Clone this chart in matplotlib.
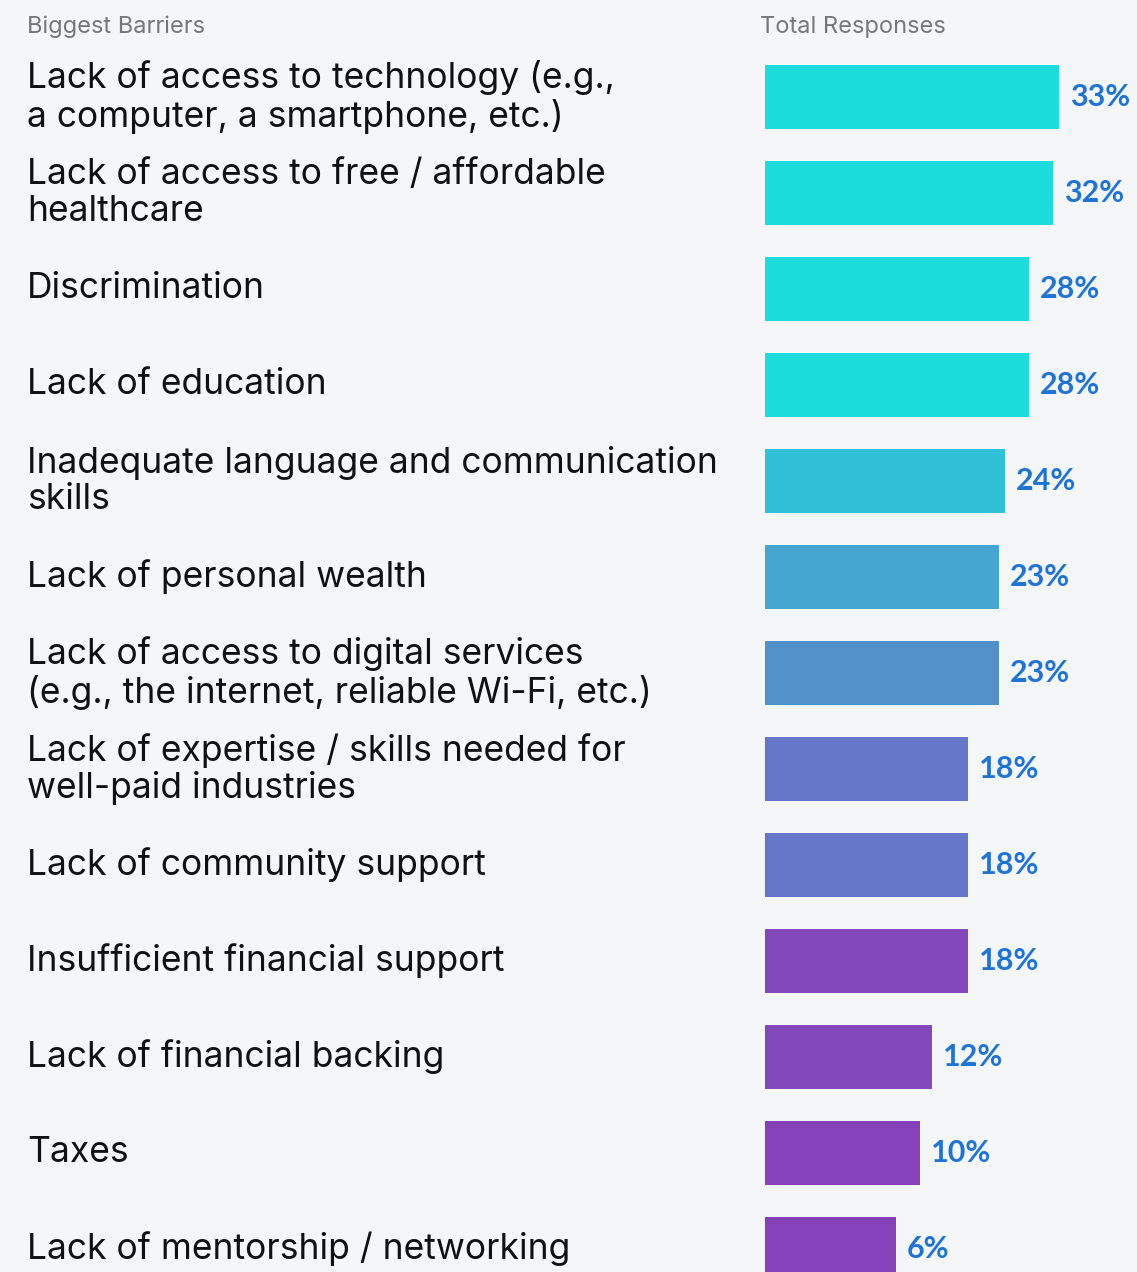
import matplotlib.pyplot as plt
import matplotlib.transforms as mtransforms

plt.rcParams['font.family'] = ['Inter', 'DejaVu Sans']

barriers = [
    "Lack of access to technology (e.g.,\na computer, a smartphone, etc.)",
    "Lack of access to free / affordable\nhealthcare",
    "Discrimination",
    "Lack of education",
    "Inadequate language and communication\nskills",
    "Lack of personal wealth",
    "Lack of access to digital services\n(e.g., the internet, reliable Wi-Fi, etc.)",
    "Lack of expertise / skills needed for\nwell-paid industries",
    "Lack of community support",
    "Insufficient financial support",
    "Lack of financial backing",
    "Taxes",
    "Lack of mentorship / networking",
]
responses = [33, 32, 28, 28, 24, 23, 23, 18, 18, 18, 12, 10, 6]
bar_colors = ['#1ddcdc', '#1ddcdc', '#1ddcdc', '#1ddcdc', '#30c0d8', '#43a5d0',
              '#5290ca', '#6575c8', '#6575c8', '#8348bc', '#8348bc', '#8541b9', '#8541b9']

W, H = 1137, 1272
bg = '#f5f6f8'
offset = 15.6   # bars start with a fixed stub before zero
px_per = 6.05

fig = plt.figure(figsize=(W / 100, H / 100), dpi=100, facecolor=bg)
ax = fig.add_axes([765 / W, 0, 1 - 765 / W, 1])
ax.set_facecolor(bg)

rows = list(range(len(barriers)))
ax.barh(rows, [v + offset for v in responses], left=-offset, height=0.667,
        color=bar_colors)

ax.set_ylim((H - 97) / 96, -97 / 96)
ax.set_xlim(-offset, (W - 765) / px_per - offset)
ax.axis('off')

for i, v in enumerate(responses):
    ax.annotate(f"{v}%", (v, i), xytext=(8, 0), textcoords='offset points',
                va='center', ha='left', fontsize=22, fontweight='bold', color='#1e74d6',
                family=['Lato', 'DejaVu Sans'])

trans = mtransforms.blended_transform_factory(fig.transFigure, ax.transData)
for i, lab in enumerate(barriers):
    ax.text(27 / W, i, lab, transform=trans, ha='left', va='center',
            fontsize=25.5, color='#111111', linespacing=1.14)

fig.text(27 / W, 1 - 27 / H, "Biggest Barriers", ha='left', va='center',
         fontsize=17, color='#777777')
fig.text(760 / W, 1 - 27 / H, "Total Responses", ha='left', va='center',
         fontsize=17, color='#777777')

fig.savefig('out.png', dpi=100, facecolor=bg)
